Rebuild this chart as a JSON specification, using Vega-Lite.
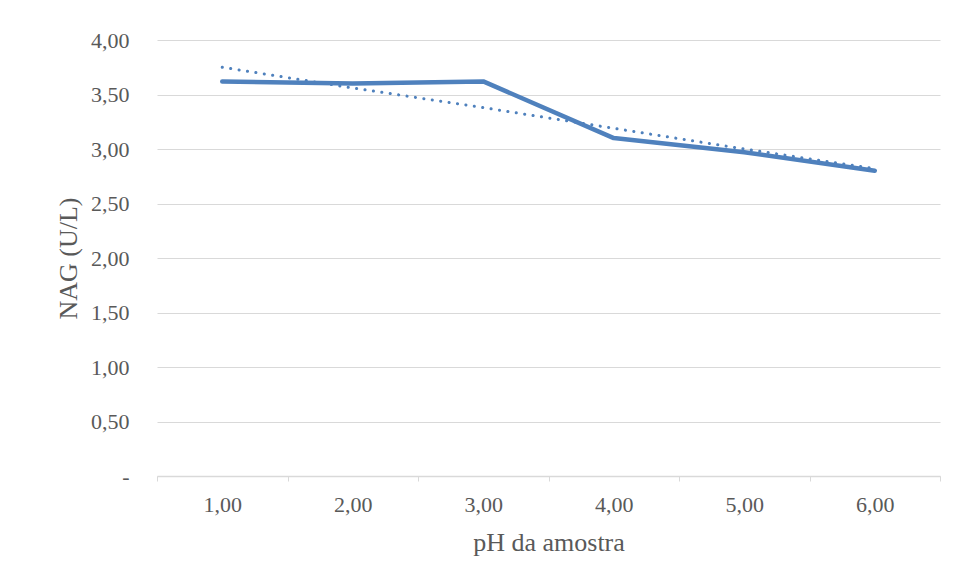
{
  "$schema": "https://vega.github.io/schema/vega-lite/v6.json",
  "autosize": {"type": "none"},
  "padding": {"left": 157, "top": 40, "right": 18, "bottom": 104},
  "width": 783,
  "height": 436,
  "background": "white",
  "config": {
    "view": {"stroke": null},
    "font": "Times New Roman, Liberation Serif, serif"
  },
  "data": {
    "values": [
      {"ph": "1,00", "nag": 3.62, "trend": 3.75},
      {"ph": "2,00", "nag": 3.60, "trend": 3.56},
      {"ph": "3,00", "nag": 3.62, "trend": 3.38},
      {"ph": "4,00", "nag": 3.10, "trend": 3.19},
      {"ph": "5,00", "nag": 2.97, "trend": 3.00},
      {"ph": "6,00", "nag": 2.80, "trend": 2.82}
    ]
  },
  "encoding": {
    "x": {
      "field": "ph",
      "type": "ordinal",
      "sort": null,
      "title": "pH da amostra",
      "scale": {"paddingInner": 0, "paddingOuter": 0},
      "axis": {
        "labelAngle": 0,
        "labelFont": "Times New Roman, Liberation Serif, serif",
        "titleFont": "Times New Roman, Liberation Serif, serif",
        "labelColor": "#595959",
        "titleColor": "#595959",
        "labelFontSize": 22,
        "titleFontSize": 26,
        "titleFontWeight": "normal",
        "domainColor": "#d9d9d9",
        "tickColor": "#d9d9d9",
        "tickBand": "extent",
        "tickSize": 5,
        "labelPadding": 13,
        "titlePadding": 14,
        "domainWidth": 1.5,
        "grid": false
      }
    }
  },
  "layer": [
    {
      "mark": {"type": "line", "color": "#4f81bd", "strokeWidth": 3, "strokeCap": "round", "strokeDash": [0.1, 8.4]},
      "encoding": {
        "y": {
          "field": "trend",
          "type": "quantitative",
          "scale": {"domain": [0, 4]},
          "title": "NAG (U/L)",
          "axis": {
            "values": [0, 0.5, 1, 1.5, 2, 2.5, 3, 3.5, 4],
            "labelExpr": "datum.value == 0 ? '-\u00a0\u00a0' : replace(format(datum.value, '.2f'), '.', ',')",
            "labelFont": "Times New Roman, Liberation Serif, serif",
            "titleFont": "Times New Roman, Liberation Serif, serif",
            "labelColor": "#595959",
            "titleColor": "#595959",
            "labelFontSize": 22,
            "titleFontSize": 26,
            "titleFontWeight": "normal",
            "gridColor": "#d9d9d9",
            "domain": false,
            "ticks": false,
            "labelPadding": 28,
            "titlePadding": 9,
            "gridWidth": 1.2
          }
        }
      }
    },
    {
      "mark": {"type": "line", "color": "#4f81bd", "strokeWidth": 4.5, "strokeCap": "round", "strokeJoin": "round"},
      "encoding": {
        "y": {"field": "nag", "type": "quantitative"}
      }
    }
  ]
}
